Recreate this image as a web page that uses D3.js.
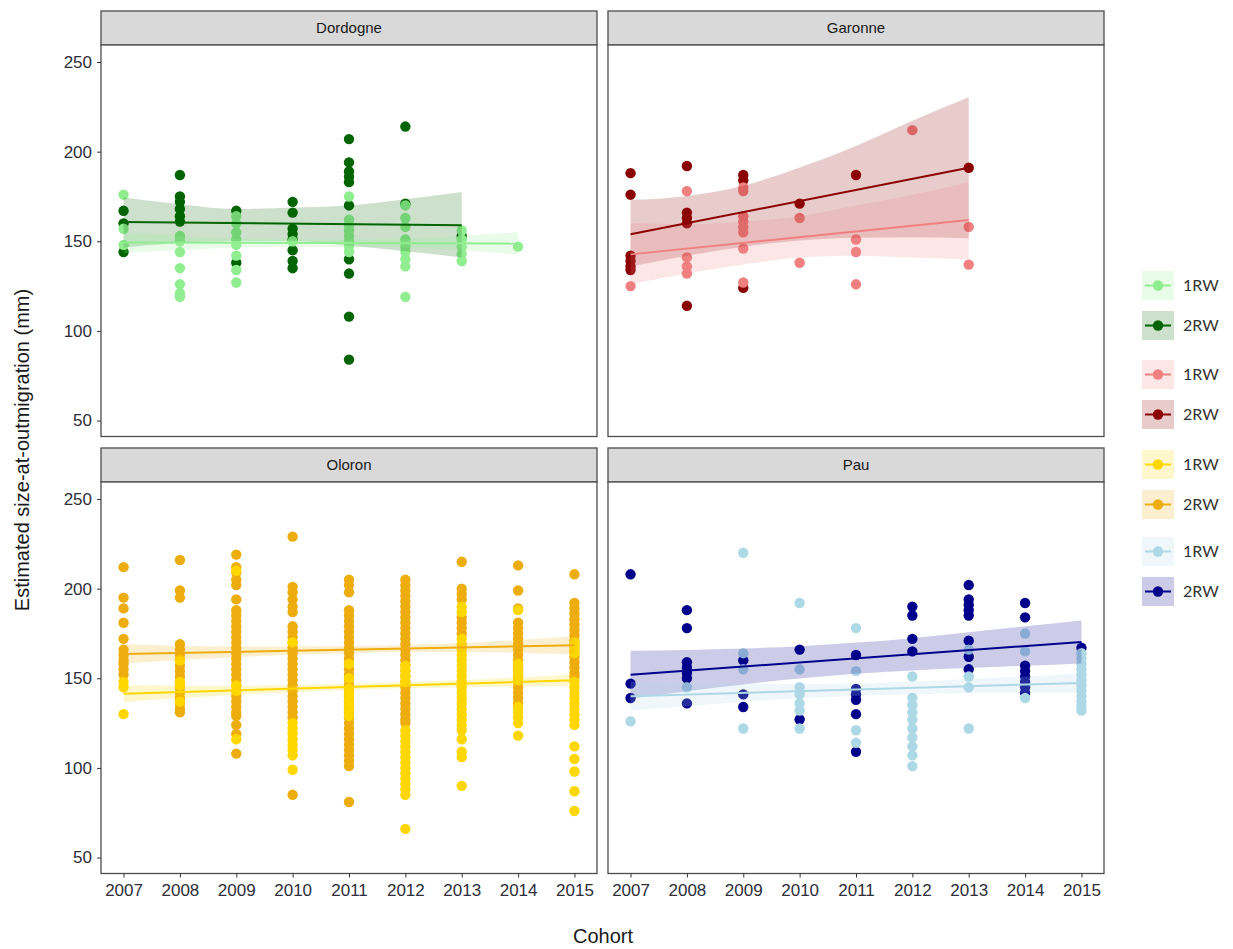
<!DOCTYPE html>
<html><head><meta charset="utf-8">
<script src="https://cdn.jsdelivr.net/npm/d3@7"></script>
<style>body{margin:0;background:#fff;} svg{display:block;}</style>
</head><body>
<svg id="chart" width="1233" height="949"></svg>
<script>
// ---------------- DATA ----------------
const sites = ["Dordogne", "Garonne", "Oloron", "Pau"];
const groups = ["1RW", "2RW"];
const xTickYears = [2007, 2008, 2009, 2010, 2011, 2012, 2013, 2014, 2015];
const yTicks = [50, 100, 150, 200, 250];
const yTitle = "Estimated size-at-outmigration (mm)";
const xTitle = "Cohort";

// points: [year, [values]]
const dordogne_2RW = [
  [2007, [167, 160, 144]], [2008, [187, 175, 172, 168, 164, 161]], [2009, [167, 138]],
  [2010, [172, 166, 157, 154, 151, 145, 139, 135]],
  [2011, [207, 194, 189, 186, 183, 170, 140, 132, 108, 84]], [2012, [214, 171]], [2013, [153]]
];
const dordogne_1RW = [
  [2007, [176, 157, 148]], [2008, [153, 150, 144, 135, 126, 121, 119]],
  [2009, [164, 160, 155, 151, 148, 142, 134, 127]], [2010, [150]],
  [2011, [175, 162, 159, 156, 153, 150, 147, 144]],
  [2012, [170, 163, 158, 151, 147, 144, 140, 136, 119]],
  [2013, [156, 151, 147, 143, 139]], [2014, [147]]
];
const garonne_2RW = [
  [2007, [188, 176, 142, 139, 136, 134]], [2008, [192, 166, 163, 160, 114]],
  [2009, [187, 184, 124]], [2010, [171]], [2011, [187]], [2013, [191]]
];
const garonne_1RW = [
  [2007, [125]], [2008, [178, 141, 136, 132]], [2009, [180, 178, 164, 161, 158, 155, 146, 127]],
  [2010, [163, 138]], [2011, [151, 144, 126]], [2012, [212]], [2013, [158, 137]]
];
const oloron_2RW = [
  [2007, [212, 195, 189, 181, 172, 166, 163, 160, 158, 155, 152]],
  [2008, [216, 199, 195, 169, 166, 163, 160, 157, 154, 151, 148, 145, 142, 139, 136, 133, 131]],
  [2009, [219, 212, 209, 205, 202, 194, 188, 185, 182, 179, 176, 173, 170, 167, 164, 161, 158, 155, 152, 149, 146, 143, 140, 137, 134, 131, 129, 124, 119, 108]],
  [2010, [229, 201, 198, 194, 190, 187, 179, 176, 173, 170, 167, 164, 161, 158, 155, 152, 149, 146, 143, 140, 137, 134, 131, 128, 85]],
  [2011, [205, 202, 198, 188, 185, 182, 179, 176, 173, 170, 167, 164, 161, 158, 155, 152, 149, 146, 143, 140, 137, 134, 131, 128, 125, 122, 119, 116, 113, 110, 107, 104, 101, 81]],
  [2012, [205, 202, 199, 196, 193, 190, 187, 184, 181, 178, 175, 172, 169, 166, 163, 160, 157, 154, 151, 148, 145, 142, 139, 136, 133, 130, 127, 125]],
  [2013, [215, 200, 197, 194, 184, 181, 178, 175]],
  [2014, [213, 199, 189, 181, 178, 175, 172, 169, 166, 163, 160, 157, 154, 151, 148, 145, 142, 139, 136]],
  [2015, [208, 192, 189, 186, 183, 180, 177, 174, 171, 168, 165, 162, 159, 156, 153, 151]]
];
const oloron_1RW = [
  [2007, [148, 145, 130]], [2008, [160, 148, 146, 137]], [2009, [210, 146, 143, 116]],
  [2010, [170, 125, 122, 119, 116, 113, 110, 107, 99]],
  [2011, [158, 150, 144, 141, 138, 135, 132, 129]],
  [2012, [157, 154, 151, 148, 121, 118, 115, 112, 109, 106, 103, 100, 97, 94, 91, 88, 85, 66]],
  [2013, [190, 187, 172, 169, 166, 163, 160, 157, 154, 151, 148, 145, 142, 139, 136, 133, 130, 127, 124, 121, 116, 109, 106, 90]],
  [2014, [188, 158, 155, 152, 149, 134, 131, 128, 125, 118]],
  [2015, [170, 167, 164, 148, 145, 142, 139, 136, 133, 130, 127, 124, 112, 105, 98, 87, 76]]
];
const pau_2RW = [
  [2007, [208, 147, 139]], [2008, [188, 178, 159, 156, 153, 150, 136]], [2009, [160, 141, 134]],
  [2010, [166, 127]], [2011, [163, 144, 141, 138, 130, 109]], [2012, [190, 185, 172, 165]],
  [2013, [202, 194, 191, 188, 185, 171, 162, 155]], [2014, [192, 184, 157, 154, 151, 148, 145, 142]],
  [2015, [167]]
];
const pau_1RW = [
  [2007, [126]], [2008, [145]], [2009, [220, 164, 155, 122]],
  [2010, [192, 155, 145, 141, 136, 132, 122]], [2011, [178, 154, 121, 114]],
  [2012, [151, 139, 135, 131, 127, 122, 117, 112, 107, 101]],
  [2013, [166, 151, 145, 122]], [2014, [175, 165, 139]],
  [2015, [164, 161, 158, 155, 152, 149, 146, 143, 140, 137, 134, 132]]
];

// fitted lines (value at first and last fit year) and confidence bands (per year)
const dordogne_2RW_fitYears = [2007, 2013];
const dordogne_2RW_fit = [160.8, 159.0];
const dordogne_2RW_lo = [146.5, 149, 150.2, 150.2, 147.5, 144.5, 141];
const dordogne_2RW_hi = [174.4, 170.7, 168, 168.8, 170, 173.5, 177.5];
const dordogne_1RW_fitYears = [2007, 2014];
const dordogne_1RW_fit = [149.3, 148.8];
const dordogne_1RW_lo = [143.5, 145, 146.5, 147, 147, 146.5, 145, 142.7];
const dordogne_1RW_hi = [155, 153, 151.5, 151, 151, 151.5, 153, 155.2];

const garonne_2RW_fitYears = [2007, 2013];
const garonne_2RW_fit = [153.9, 191.0];
const garonne_2RW_lo = [136, 142, 147, 150.5, 152, 152.3, 151.7];
const garonne_2RW_hi = [173, 175.3, 181, 191.2, 203.2, 217.2, 230.3];
const garonne_1RW_fitYears = [2007, 2013];
const garonne_1RW_fit = [142.7, 161.9];
const garonne_1RW_lo = [126, 132, 137, 141, 142, 141, 140];
const garonne_1RW_hi = [160, 159.5, 161, 164, 170, 176, 183];

const oloron_2RW_fitYears = [2007, 2015];
const oloron_2RW_fit = [163.6, 168.4];
const oloron_2RW_lo = [158.1, 160.2, 161.8, 163.1, 164, 164.6, 164.7, 164.3, 163.4];
const oloron_2RW_hi = [169.1, 168.2, 167.8, 167.7, 168, 168.6, 169.7, 171.3, 173.4];
const oloron_1RW_fitYears = [2007, 2015];
const oloron_1RW_fit = [141.4, 148.9];
const oloron_1RW_lo = [136.7, 138.8, 140.8, 142.2, 143.5, 144.4, 145, 145.5, 145.7];
const oloron_1RW_hi = [146.1, 145.8, 145.8, 146.2, 146.9, 147.8, 149, 150.5, 152.1];

const pau_2RW_fitYears = [2007, 2015];
const pau_2RW_fit = [152.0, 170.3];
const pau_2RW_lo = [138.7, 142.8, 146.6, 149.9, 152.5, 154.4, 155.7, 157, 158.3];
const pau_2RW_hi = [165.3, 165.8, 166.6, 167.9, 169.9, 172.4, 175.7, 179, 182.3];
const pau_1RW_fitYears = [2007, 2015];
const pau_1RW_fit = [140.0, 147.4];
const pau_1RW_lo = [132, 134.4, 136.9, 138.8, 140.2, 141.1, 141.6, 142, 141.8];
const pau_1RW_hi = [148, 147.4, 146.9, 146.8, 147.2, 148.1, 149.6, 151, 153];

// ---------------- STYLE ----------------
const colors = {
  Dordogne: { "1RW": "#90EE90", "2RW": "#006400" },
  Garonne:  { "1RW": "#F08080", "2RW": "#8B0000" },
  Oloron:   { "1RW": "#FFD700", "2RW": "#EEAD0E" },
  Pau:      { "1RW": "#ADD8E6", "2RW": "#00008B" }
};

const series = {
  Dordogne: {
    "1RW": { pts: dordogne_1RW, fy: dordogne_1RW_fitYears, fit: dordogne_1RW_fit, lo: dordogne_1RW_lo, hi: dordogne_1RW_hi },
    "2RW": { pts: dordogne_2RW, fy: dordogne_2RW_fitYears, fit: dordogne_2RW_fit, lo: dordogne_2RW_lo, hi: dordogne_2RW_hi } },
  Garonne: {
    "1RW": { pts: garonne_1RW, fy: garonne_1RW_fitYears, fit: garonne_1RW_fit, lo: garonne_1RW_lo, hi: garonne_1RW_hi },
    "2RW": { pts: garonne_2RW, fy: garonne_2RW_fitYears, fit: garonne_2RW_fit, lo: garonne_2RW_lo, hi: garonne_2RW_hi } },
  Oloron: {
    "1RW": { pts: oloron_1RW, fy: oloron_1RW_fitYears, fit: oloron_1RW_fit, lo: oloron_1RW_lo, hi: oloron_1RW_hi },
    "2RW": { pts: oloron_2RW, fy: oloron_2RW_fitYears, fit: oloron_2RW_fit, lo: oloron_2RW_lo, hi: oloron_2RW_hi } },
  Pau: {
    "1RW": { pts: pau_1RW, fy: pau_1RW_fitYears, fit: pau_1RW_fit, lo: pau_1RW_lo, hi: pau_1RW_hi },
    "2RW": { pts: pau_2RW, fy: pau_2RW_fitYears, fit: pau_2RW_fit, lo: pau_2RW_lo, hi: pau_2RW_hi } }
};

// ---------------- LAYOUT ----------------
const svg = d3.select("#chart");
const panelX = [101, 608], panelW = 496;
const panelY = [45, 482], panelH = 391.5, stripH = 34;
const font = "'Liberation Sans', Arial, sans-serif";
const borderCol = "#4d4d4d";
const ptR = 5.2;

const x = d3.scaleLinear().domain([2006.6, 2015.4]).range([0, panelW]);
const y = d3.scaleLinear().domain([41.1, 259.5]).range([panelH, 0]);

sites.forEach((site, i) => {
  const col = i % 2, row = Math.floor(i / 2);
  const g = svg.append("g").attr("transform", `translate(${panelX[col]},${panelY[row]})`);

  // strip
  g.append("rect").attr("x", 0).attr("y", -stripH).attr("width", panelW).attr("height", stripH)
    .attr("fill", "#D9D9D9").attr("stroke", borderCol).attr("stroke-width", 1.3);
  g.append("text").attr("x", panelW / 2).attr("y", -stripH / 2).attr("dy", "0.35em")
    .attr("text-anchor", "middle").attr("font-family", font).attr("font-size", 15)
    .attr("fill", "#1a1a1a").text(site);

  g.append("rect").attr("width", panelW).attr("height", panelH).attr("fill", "#fff");

  const clip = g.append("clipPath").attr("id", "clip" + i);
  clip.append("rect").attr("width", panelW).attr("height", panelH);
  const plot = g.append("g").attr("clip-path", `url(#clip${i})`);

  // points: 2RW first, then 1RW
  ["2RW", "1RW"].forEach(grp => {
    const s = series[site][grp];
    const flat = [];
    s.pts.forEach(([yr, vals]) => vals.forEach(v => flat.push({ yr, v })));
    plot.selectAll(null).data(flat).enter().append("circle")
      .attr("cx", d => x(d.yr)).attr("cy", d => y(d.v)).attr("r", ptR)
      .attr("fill", colors[site][grp]);
  });

  // ribbons
  ["2RW", "1RW"].forEach(grp => {
    const s = series[site][grp];
    const band = s.lo.map((lo, k) => ({ yr: s.fy[0] + k, lo, hi: s.hi[k] }));
    plot.append("path").datum(band)
      .attr("d", d3.area().x(d => x(d.yr)).y0(d => y(d.lo)).y1(d => y(d.hi)).curve(d3.curveMonotoneX))
      .attr("fill", colors[site][grp]).attr("fill-opacity", 0.2);
  });
  // lines
  ["2RW", "1RW"].forEach(grp => {
    const s = series[site][grp];
    const ln = s.fy.map((yr, k) => ({ yr, v: s.fit[k] }));
    plot.append("path").datum(ln)
      .attr("d", d3.line().x(d => x(d.yr)).y(d => y(d.v)))
      .attr("fill", "none").attr("stroke", colors[site][grp]).attr("stroke-width", 2);
  });

  // border
  g.append("rect").attr("width", panelW).attr("height", panelH)
    .attr("fill", "none").attr("stroke", borderCol).attr("stroke-width", 1.3);

  // axes
  if (col === 0) {
    const ay = g.append("g").call(d3.axisLeft(y).tickValues(yTicks).tickSize(4).tickPadding(5));
    ay.select(".domain").remove();
    ay.selectAll("line").attr("stroke", "#333");
    ay.selectAll("text").attr("font-family", font).attr("font-size", 17).attr("fill", "#2e2e3a");
  }
  if (row === 1) {
    const ax = g.append("g").attr("transform", `translate(0,${panelH})`)
      .call(d3.axisBottom(x).tickValues(xTickYears).tickFormat(d3.format("d")).tickSize(4).tickPadding(6));
    ax.select(".domain").remove();
    ax.selectAll("line").attr("stroke", "#333");
    ax.selectAll("text").attr("font-family", font).attr("font-size", 17).attr("fill", "#2e2e3a");
  }
});

// axis titles
svg.append("text").attr("x", 603).attr("y", 943).attr("text-anchor", "middle")
  .attr("font-family", font).attr("font-size", 20).attr("fill", "#1a1a1a").text(xTitle);
svg.append("text").attr("transform", "translate(29,450) rotate(-90)").attr("text-anchor", "middle")
  .attr("font-family", font).attr("font-size", 20).attr("fill", "#1a1a1a").text(yTitle);

// legend
const legendTops = [271, 311, 360, 400, 450, 490, 537, 577];
const lg = svg.append("g");
let li = 0;
sites.forEach(site => {
  groups.forEach(grp => {
    const top = legendTops[li++];
    const c = colors[site][grp];
    const k = lg.append("g").attr("transform", `translate(1142,${top})`);
    k.append("rect").attr("width", 32).attr("height", 29).attr("fill", c).attr("fill-opacity", 0.2);
    k.append("line").attr("x1", 3).attr("x2", 29).attr("y1", 14.5).attr("y2", 14.5)
      .attr("stroke", c).attr("stroke-width", 2);
    k.append("circle").attr("cx", 16).attr("cy", 14.5).attr("r", ptR).attr("fill", c);
    k.append("text").attr("x", 41).attr("y", 14.5).attr("dy", "0.35em")
      .attr("font-family", "Lato, 'Open Sans', sans-serif").attr("font-size", 16)
      .attr("fill", "#333").text(grp);
  });
});
</script>
</body></html>
